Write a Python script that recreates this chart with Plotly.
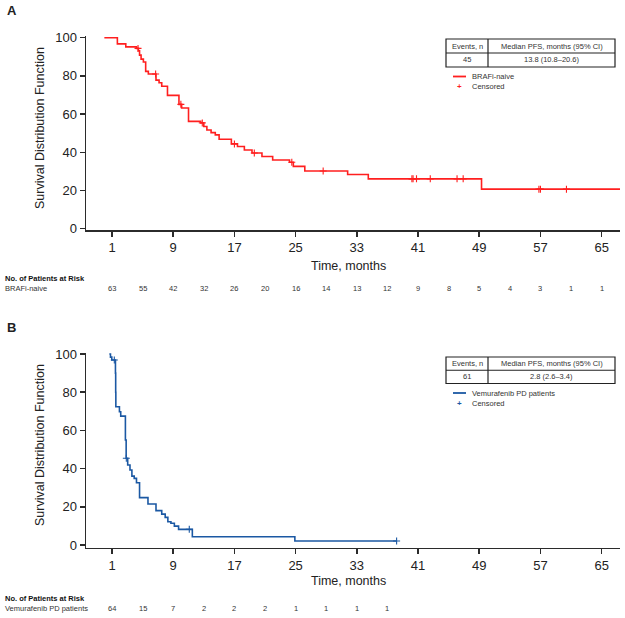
import numpy as np
import plotly.graph_objects as go

# ---------------- data ----------------
# Panel A: BRAFi-naive
times_A = [0, 1.7, 2.8, 4.2, 4.45, 4.6, 4.8, 5.1, 5.4, 5.75, 6.75, 7.15, 7.5, 8.25, 9.75, 10.1,
           11.0, 12.6, 13.0, 13.4, 13.95, 14.5, 15.0, 16.6, 17.4, 18.3, 19.3, 20.6, 22.0, 24.2,
           24.7, 26.2, 31.8, 34.5, 49.3, 67.4]
surv_A = [100, 96.8, 95.2, 94.4, 93.2, 90.9, 88.8, 87.3, 82.4, 81.0, 77.8, 76.4, 74.6, 69.8, 65.1, 63.2,
          56.2, 55.4, 53.5, 51.7, 50.3, 49.1, 46.8, 44.4, 43.0, 41.2, 39.6, 37.8, 36.0, 34.8,
          32.6, 30.2, 28.4, 26.1, 20.7, 20.7]
censor_A = [4.4, 6.7, 10.0, 12.8, 17.0, 19.6, 24.5, 28.6, 40.2, 40.35, 40.8, 42.6, 46.1, 46.9,
            56.8, 57.0, 60.4]

# Panel B: Vemurafenib PD patients
times_B = [0.65, 0.8, 0.97, 1.45, 1.48, 1.5, 1.97, 2.14, 2.75, 2.85, 3.05, 3.35, 3.6, 3.9, 4.2,
           4.6, 5.7, 6.75, 7.5, 7.95, 8.3, 8.7, 9.15, 9.7, 11.5, 24.9, 38.2]
surv_B = [100, 98.4, 96.9, 90.0, 80.0, 72.4, 69.8, 67.5, 55.0, 45.4, 41.9, 39.3, 36.1, 34.9, 32.6,
          24.8, 21.5, 18.0, 16.2, 14.5, 12.2, 11.4, 9.9, 8.2, 4.3, 2.1, 2.1]
censor_B = [1.3, 2.87, 11.1, 38.2]

x_ticks = [1, 9, 17, 25, 33, 41, 49, 57, 65]
y_ticks = [0, 20, 40, 60, 80, 100]

risk_times_A = [1, 5, 9, 13, 17, 21, 25, 29, 33, 37, 41, 45, 49, 53, 57, 61, 65]
risk_A = [63, 55, 42, 32, 26, 20, 16, 14, 13, 12, 9, 8, 5, 4, 3, 1, 1]
risk_times_B = [1, 5, 9, 13, 17, 21, 25, 29, 33, 37]
risk_B = [64, 15, 7, 2, 2, 2, 1, 1, 1, 1]

label_A = "BRAFi-naive"
label_B = "Vemurafenib PD patients"
events_A, median_A = "45", "13.8 (10.8–20.6)"
events_B, median_B = "61", "2.8 (2.6–3.4)"

# ---------------- style ----------------
W, H = 625, 618
RED = "#FF1F1F"
BLUE = "#1B58A3"
AX = "#2b2b2b"
TXT = "#222222"
FONT = "Liberation Sans, Arial, sans-serif"


def PX(px):
    return px / W


def PY(py):
    return 1 - py / H


def step_value(times, surv, t):
    i = int(np.searchsorted(np.array(times), t, side="right")) - 1
    return surv[max(i, 0)]


fig = go.Figure()

# curves
fig.add_trace(go.Scatter(x=times_A, y=surv_A, mode="lines", line=dict(color=RED, width=1.6, shape="hv"),
                         xaxis="x", yaxis="y", showlegend=False, hoverinfo="skip"))
fig.add_trace(go.Scatter(x=censor_A, y=[step_value(times_A, surv_A, c) for c in censor_A], mode="markers",
                         marker=dict(symbol="cross-thin", size=5, line=dict(color=RED, width=1.1)),
                         xaxis="x", yaxis="y", showlegend=False, cliponaxis=False))
fig.add_trace(go.Scatter(x=times_B, y=surv_B, mode="lines", line=dict(color=BLUE, width=1.6, shape="hv"),
                         xaxis="x2", yaxis="y2", showlegend=False, hoverinfo="skip"))
fig.add_trace(go.Scatter(x=censor_B, y=[step_value(times_B, surv_B, c) for c in censor_B], mode="markers",
                         marker=dict(symbol="cross-thin", size=5, line=dict(color=BLUE, width=1.1)),
                         xaxis="x2", yaxis="y2", showlegend=False, cliponaxis=False))

x_dom = [PX(86), PX(620)]
x_range = [-2.4, 67.4]
yA_dom = [PY(230), PY(36.2)]
yB_dom = [PY(547.7), PY(352.5)]

xaxis_common = dict(range=x_range, domain=x_dom, tickmode="array", tickvals=x_ticks, automargin=False,
                    showline=True, linecolor=AX, linewidth=1.5, ticks="outside", ticklen=5,
                    tickwidth=1.5, tickcolor=AX, showgrid=False, zeroline=False,
                    tickfont=dict(family=FONT, size=13, color=TXT), fixedrange=True)
yaxis_common = dict(tickmode="array", tickvals=y_ticks, showline=True, linecolor=AX, linewidth=1.5,
                    ticks="outside", ticklen=5, tickwidth=1.5, tickcolor=AX, showgrid=False,
                    automargin=False, zeroline=False, tickfont=dict(family=FONT, size=13, color=TXT),
                    fixedrange=True)

fig.update_layout(
    template="none",
    width=W, height=H, margin=dict(l=0, r=0, t=0, b=0, pad=0), autosize=False,
    paper_bgcolor="white", plot_bgcolor="white",
    font=dict(family=FONT, color=TXT),
    xaxis=dict(**xaxis_common, anchor="y"),
    yaxis=dict(**yaxis_common, range=[-0.7, 100.8], domain=yA_dom, anchor="x"),
    xaxis2=dict(**xaxis_common, anchor="y2"),
    yaxis2=dict(**yaxis_common, range=[-1.4, 100.8], domain=yB_dom, anchor="x2"),
)

ann = []
shapes = []


def text(px, py, s, size=7.5, anchor="center", bold=False, angle=0, color=TXT):
    ann.append(dict(x=PX(px), y=PY(py), xref="paper", yref="paper", text=f"<b>{s}</b>" if bold else s,
                    showarrow=False, xanchor=anchor, yanchor="middle", textangle=angle,
                    font=dict(family=FONT, size=size, color=color)))


# panel labels
text(12, 11, "A", size=13, bold=True)
text(12, 327, "B", size=13, bold=True)

# axis titles
text(40, 128, "Survival Distribution Function", size=12.5, angle=-90)
text(40, 445, "Survival Distribution Function", size=12.5, angle=-90)
text(348, 266, "Time, months", size=12.5)
text(348, 581, "Time, months", size=12.5)

# risk tables
for hdr_y, row_y, label, rt, rv, xr in [(278, 288.5, label_A, risk_times_A, risk_A, "x"),
                                        (598, 608.5, label_B, risk_times_B, risk_B, "x2")]:
    text(3, hdr_y, "No. of Patients at Risk", size=7.5, anchor="left", bold=True, color="#111")
    text(3, row_y, label, size=7.5, anchor="left", color="#333")
    for t, v in zip(rt, rv):
        ann.append(dict(x=t, y=PY(row_y), xref=xr, yref="paper", text=str(v), showarrow=False,
                        xanchor="center", yanchor="middle", font=dict(family=FONT, size=7.5, color="#333")))


# legend tables
def legend_table(top, bottom, events, median, label, color):
    mid = (top + bottom) / 2
    shapes.append(dict(type="rect", xref="paper", yref="paper", x0=PX(446), x1=PX(615), y0=PY(bottom),
                       y1=PY(top), line=dict(color="#222", width=1.2)))
    shapes.append(dict(type="line", xref="paper", yref="paper", x0=PX(446), x1=PX(615), y0=PY(mid),
                       y1=PY(mid), line=dict(color="#222", width=1.2)))
    shapes.append(dict(type="line", xref="paper", yref="paper", x0=PX(488), x1=PX(488), y0=PY(bottom),
                       y1=PY(top), line=dict(color="#222", width=1.2)))
    text(467, (top + mid) / 2, "Events, n", color="#333")
    text(551.5, (top + mid) / 2, "Median PFS, months (95% CI)", color="#333")
    text(467, (mid + bottom) / 2, events, color="#333")
    text(551.5, (mid + bottom) / 2, median, color="#333")
    ly = bottom + 9.5
    shapes.append(dict(type="line", xref="paper", yref="paper", x0=PX(453), x1=PX(466), y0=PY(ly),
                       y1=PY(ly), line=dict(color=color, width=1.8)))
    text(470, ly, label, anchor="left", color="#333")
    text(459.5, ly + 10, "+", size=8, color=color, bold=True)
    text(470, ly + 10, "Censored", anchor="left", color="#333")


legend_table(39, 67, events_A, median_A, label_A, RED)
legend_table(357, 383.5, events_B, median_B, label_B, BLUE)

fig.update_layout(annotations=ann, shapes=shapes)
fig.write_html(
    "out.html",
    config={"displayModeBar": False, "staticPlot": True},
    post_script=("document.documentElement.style.margin='0';document.body.style.margin='0';"
                 "document.body.style.padding='0';document.body.style.overflow='hidden';"
                 "document.documentElement.style.overflow='hidden';"),
)
